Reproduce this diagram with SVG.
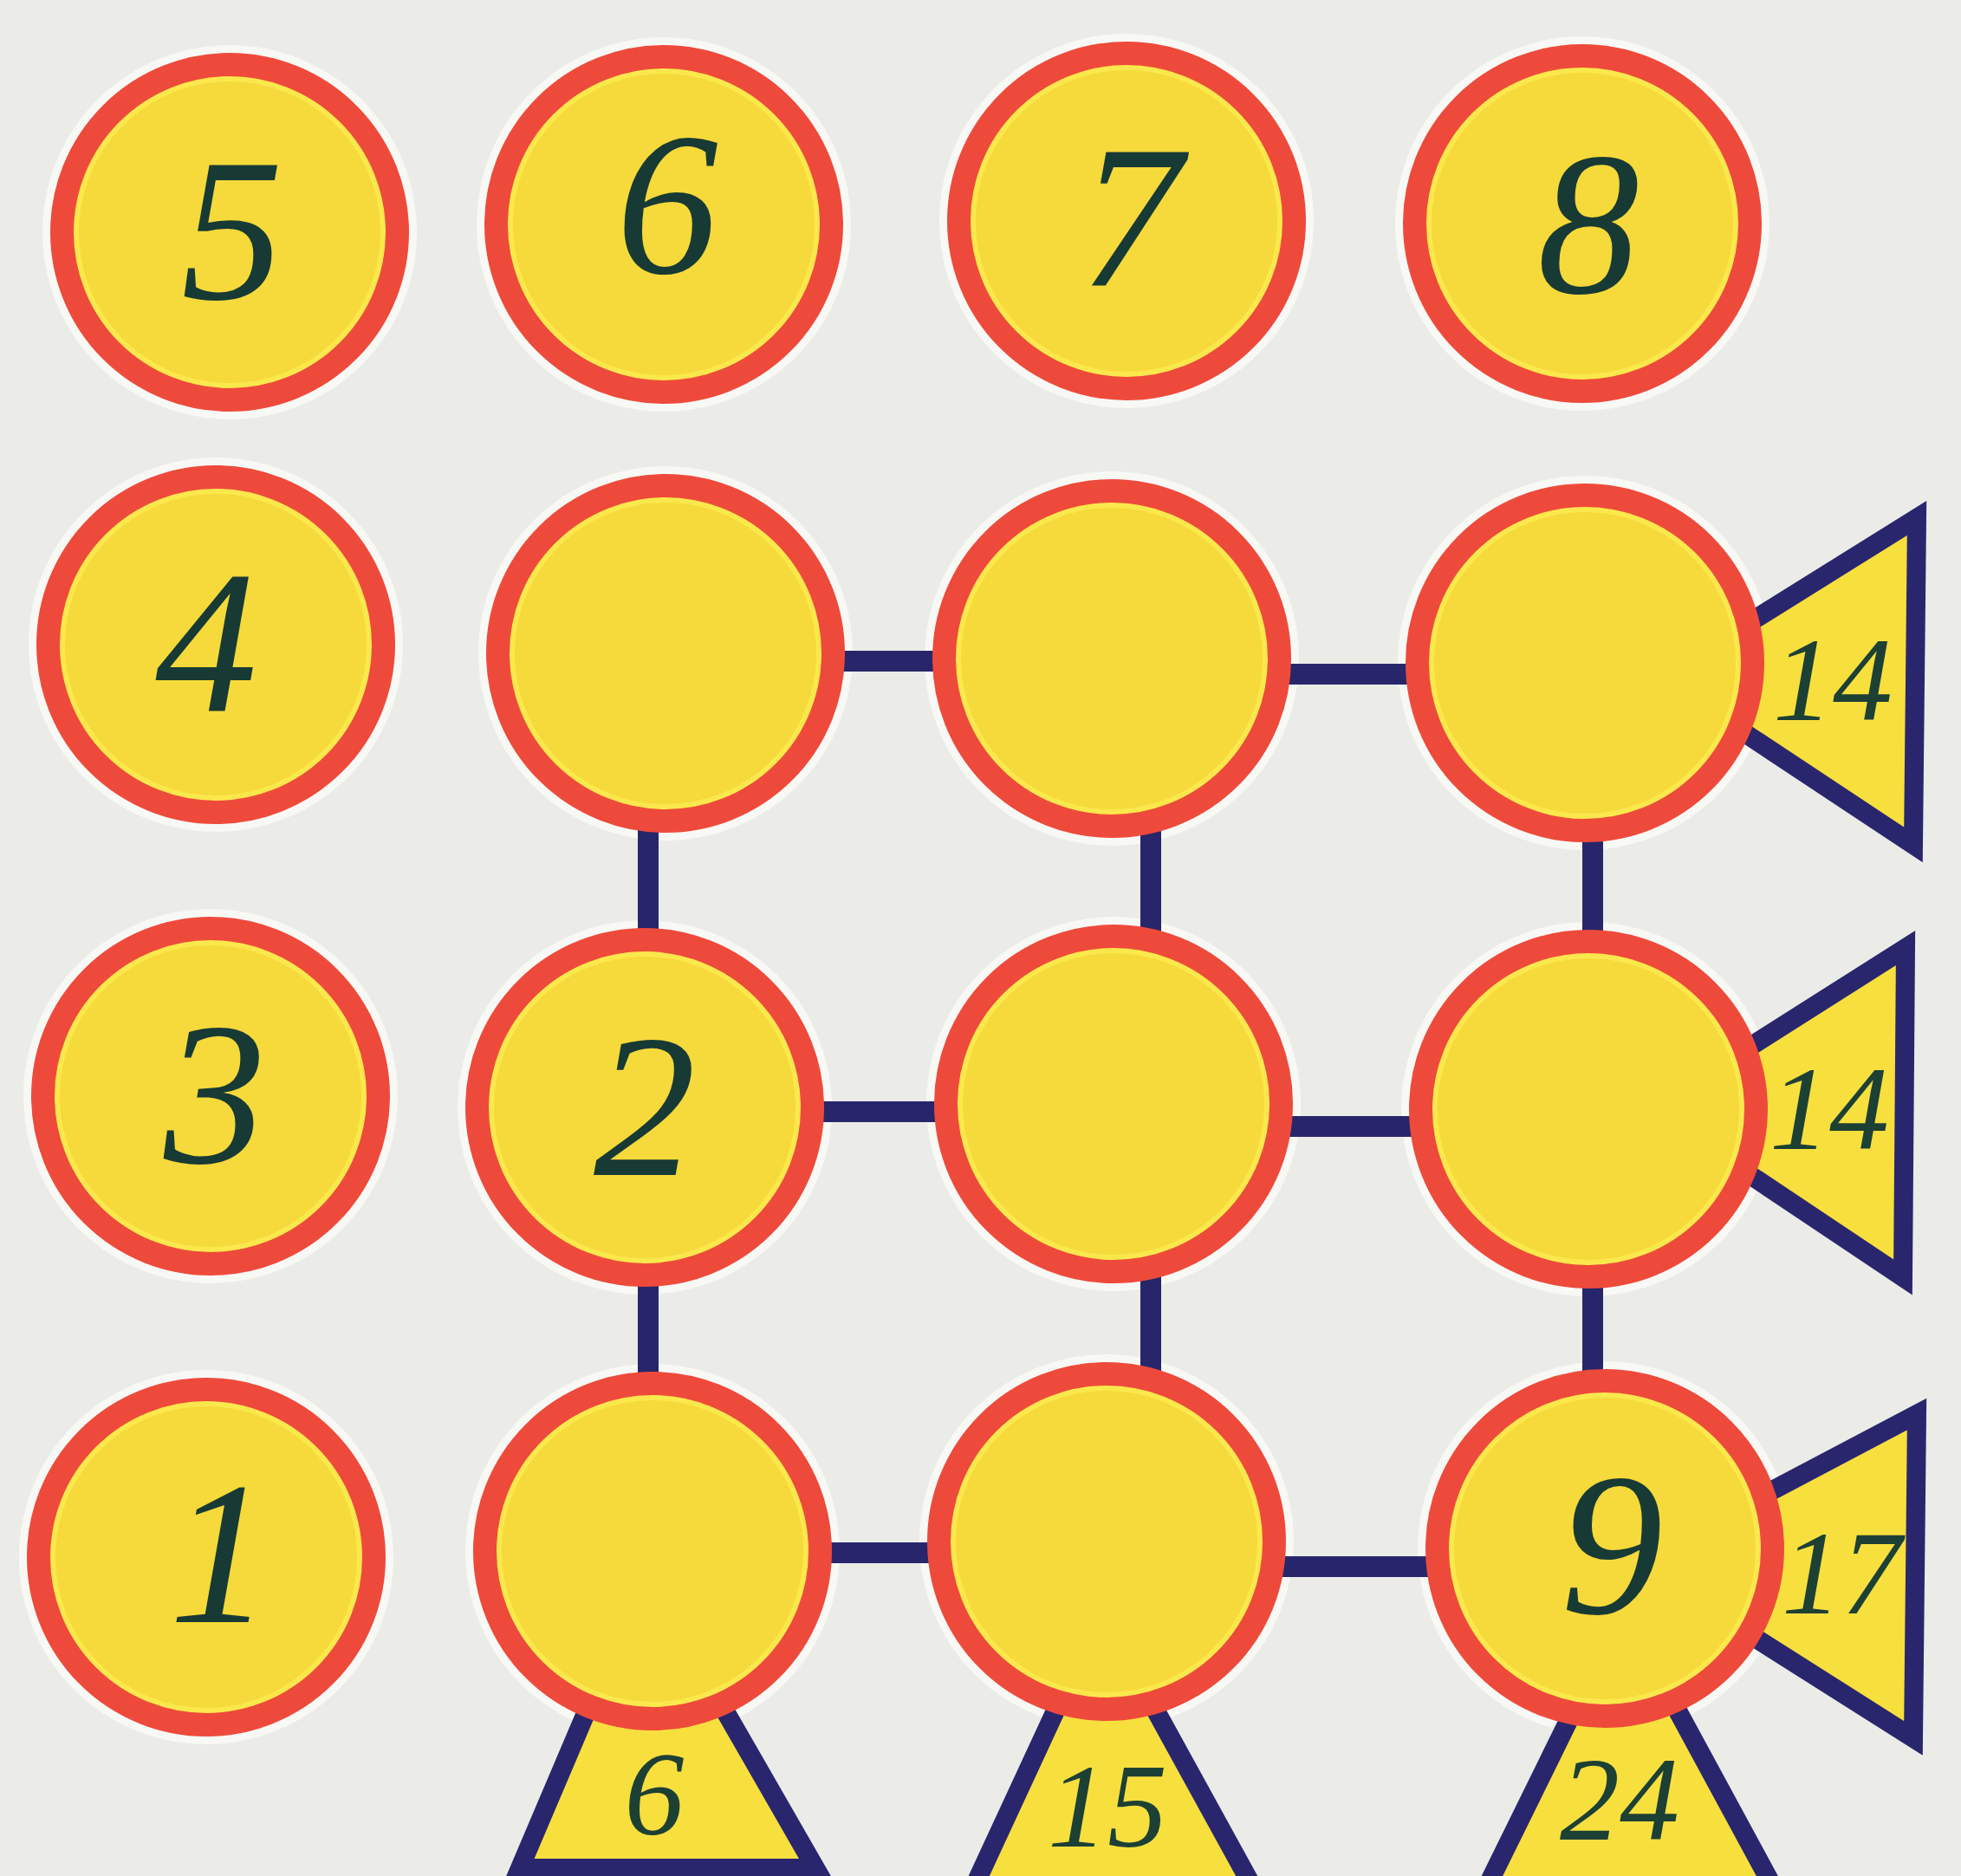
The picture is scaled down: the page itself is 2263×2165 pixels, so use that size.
<svg xmlns="http://www.w3.org/2000/svg" width="2263" height="2165" viewBox="0 0 2263 2165">
<style>
.halo{fill:none;stroke:#f8f8f5;stroke-width:10}
.disc{fill:#f6d93a;stroke:#ee4a3b;stroke-width:28}
.rim{fill:none;stroke:#fbe84c;stroke-width:6}
.tri{fill:#f7df3e;stroke:#29266e;stroke-width:22;stroke-linejoin:miter}
.link{stroke:#28266b;stroke-width:24;stroke-linecap:butt;fill:none}
.big{font-family:"Liberation Serif","DejaVu Serif",serif;font-style:italic;font-size:236px;fill:#173a34;text-anchor:middle}
.small{font-family:"Liberation Serif","DejaVu Serif",serif;font-style:italic;font-size:138px;fill:#1d4034;text-anchor:middle}
</style>
<defs>
<g id="c">
<circle class="disc" r="193"/>
<circle class="rim" r="177"/>
</g>
<circle id="h" class="halo" r="211"/>
</defs>
<rect width="2263" height="2165" fill="#ebebe8"/>
<g id="halos">
<use href="#h" x="265" y="268"/><use href="#h" x="766" y="259"/><use href="#h" x="1300" y="255"/><use href="#h" x="1826" y="258"/>
<use href="#h" x="249" y="744"/><use href="#h" x="768" y="754"/><use href="#h" x="1283" y="760"/><use href="#h" x="1829" y="765"/>
<use href="#h" x="243" y="1265"/><use href="#h" x="744" y="1278"/><use href="#h" x="1285" y="1274"/><use href="#h" x="1833" y="1280"/>
<use href="#h" x="238" y="1797"/><use href="#h" x="753" y="1790"/><use href="#h" x="1277" y="1779"/><use href="#h" x="1852" y="1787"/>
</g>
<g id="connectors">
<line class="link" x1="960" y1="763" x2="1095" y2="763"/>
<line class="link" x1="1470" y1="778" x2="1640" y2="778"/>
<line class="link" x1="930" y1="1283" x2="1100" y2="1283"/>
<line class="link" x1="1470" y1="1300" x2="1645" y2="1300"/>
<line class="link" x1="950" y1="1792" x2="1090" y2="1792"/>
<line class="link" x1="1465" y1="1808" x2="1660" y2="1808"/>
<line class="link" x1="748" y1="950" x2="748" y2="1085"/>
<line class="link" x1="748" y1="1470" x2="748" y2="1600"/>
<line class="link" x1="1328" y1="950" x2="1328" y2="1080"/>
<line class="link" x1="1328" y1="1465" x2="1328" y2="1590"/>
<line class="link" x1="1838" y1="955" x2="1838" y2="1090"/>
<line class="link" x1="1838" y1="1470" x2="1838" y2="1595"/>
</g>
<g id="tri-r1"><polygon class="tri" points="1917,782 2212,598 2208,975"/></g>
<g id="tri-r2"><polygon class="tri" points="1906,1280 2199,1094 2196,1474"/></g>
<g id="tri-r3"><polygon class="tri" points="1888,1803 2212,1632 2208,2006"/></g>
<g id="tri-b1"><polygon class="tri" points="745,1815 941,2156 600,2156"/></g>
<g id="tri-b2"><polygon class="tri" points="1271,1860 1480,2240 1095,2240"/></g>
<g id="tri-b3"><polygon class="tri" points="1873,1858 2080,2240 1685,2240"/></g>
<g id="n5"><use href="#c" x="265" y="268"/><text class="big" x="268" y="345">5</text></g>
<g id="n6"><use href="#c" x="766" y="259"/><text class="big" x="770" y="315">6</text></g>
<g id="n7"><use href="#c" x="1300" y="255"/><text class="big" x="1305" y="330">7</text></g>
<g id="n8"><use href="#c" x="1826" y="258"/><text class="big" x="1833" y="338">8</text></g>
<g id="n4"><use href="#c" x="249" y="744"/><text class="big" x="238" y="820">4</text></g>
<g id="g11"><use href="#c" x="768" y="754"/></g>
<g id="g12"><use href="#c" x="1283" y="760"/></g>
<g id="g13"><use href="#c" x="1829" y="765"/></g>
<g id="n3"><use href="#c" x="243" y="1265"/><text class="big" x="248" y="1342">3</text></g>
<g id="n2"><use href="#c" x="744" y="1278"/><text class="big" x="744" y="1356">2</text></g>
<g id="g22"><use href="#c" x="1285" y="1274"/></g>
<g id="g23"><use href="#c" x="1833" y="1280"/></g>
<g id="n1"><use href="#c" x="238" y="1797"/><text class="big" x="254" y="1872">1</text></g>
<g id="g31"><use href="#c" x="753" y="1790"/></g>
<g id="g32"><use href="#c" x="1277" y="1779"/></g>
<g id="n9"><use href="#c" x="1852" y="1787"/><text class="big" x="1860" y="1862">9</text></g>
<g id="labels">
<text class="small" x="2115" y="831">14</text>
<text class="small" x="2111" y="1326">14</text>
<text class="small" x="2125" y="1862">17</text>
<text class="small" x="755" y="2117">6</text>
<text class="small" x="1278" y="2131">15</text>
<text class="small" x="1869" y="2123">24</text>
</g>
</svg>
